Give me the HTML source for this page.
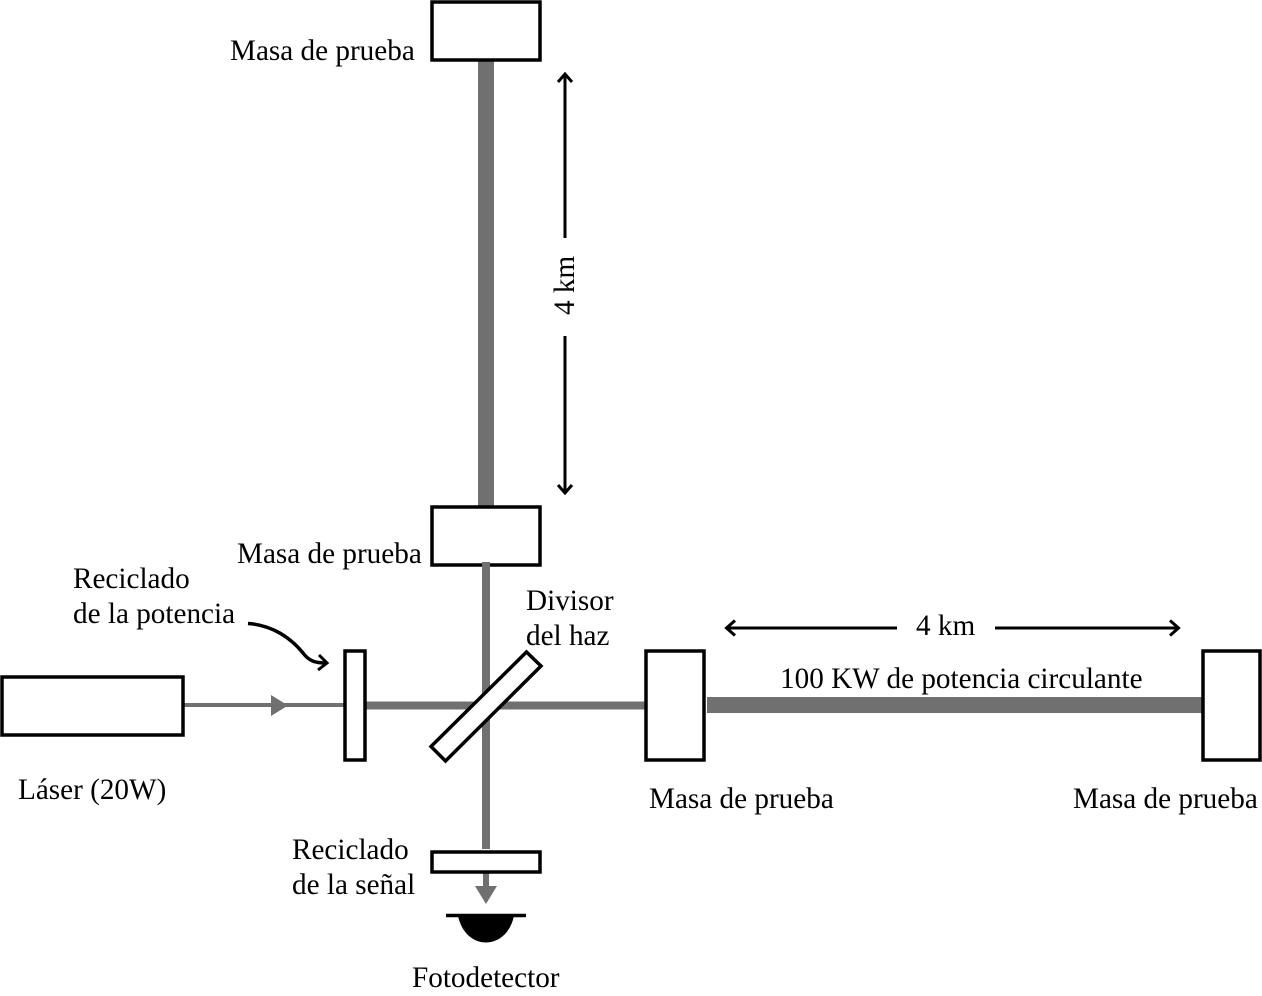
<!DOCTYPE html>
<html>
<head>
<meta charset="utf-8">
<style>
html,body{margin:0;padding:0;background:#fff;}
svg{display:block;}
text{font-family:"Liberation Serif",serif;font-size:29.2px;fill:#000;}
</style>
</head>
<body>
<svg width="1262" height="996" viewBox="0 0 1262 996" xmlns="http://www.w3.org/2000/svg">
<!-- beams behind boxes -->
<rect x="478" y="60" width="16" height="447" fill="#707070"/>
<rect x="184" y="703" width="161" height="4" fill="#707070"/>
<polygon points="271,695 288,705.5 271,716" fill="#707070"/>
<rect x="365" y="701.5" width="281" height="8" fill="#707070"/>
<rect x="707" y="697" width="495" height="16" fill="#707070"/>
<rect x="483" y="872" width="6" height="16" fill="#707070"/>
<polygon points="475,886 497,886 486,904" fill="#707070"/>
<!-- boxes -->
<g fill="#fff" stroke="#000" stroke-width="3.5">
<rect x="432" y="2" width="108" height="58"/>
<rect x="432" y="507" width="108" height="58"/>
<rect x="2" y="677" width="181" height="58"/>
<rect x="345" y="651" width="20" height="109"/>
<rect x="646" y="651" width="58" height="109"/>
<rect x="1203" y="651" width="57" height="109"/>
<rect x="432" y="852" width="108" height="20"/>
</g>
<!-- vertical beam over lower test mass border -->
<rect x="482" y="562" width="8" height="287" fill="#707070"/>
<!-- beam splitter on top -->
<polygon points="526.5,652 541,666 445.5,761 431,746.5" fill="#fff" stroke="#000" stroke-width="3.5"/>
<!-- photodetector -->
<line x1="446" y1="915.5" x2="526" y2="915.5" stroke="#000" stroke-width="3.5"/>
<path d="M458 916 H514 C510 934 498 942.5 486 942.5 C474 942.5 462 934 458 916 Z" fill="#000"/>
<!-- dimension arrows -->
<g fill="none" stroke="#000" stroke-width="3">
<line x1="565" y1="74" x2="565" y2="238"/>
<line x1="565" y1="336" x2="565" y2="493"/>
<polyline points="558,82 565,74 572,82"/>
<polyline points="558,485 565,493 572,485"/>
<line x1="727" y1="628" x2="897" y2="628"/>
<line x1="995" y1="628" x2="1178" y2="628"/>
<polyline points="735,620.5 726.5,628 735,635.5"/>
<polyline points="1170,620.5 1178.5,628 1170,635.5"/>
<path d="M248 623.5 C272 625 291 638 303 653 C309 661 315 663 326 663" stroke-width="3.5"/>
<polyline points="319,655 327,663 318,670"/>
</g>
<!-- labels -->
<text x="230" y="60">Masa de prueba</text>
<text x="237" y="563">Masa de prueba</text>
<text x="649" y="808">Masa de prueba</text>
<text x="1073" y="808">Masa de prueba</text>
<text x="73" y="588">Reciclado</text>
<text x="73" y="623">de la potencia</text>
<text x="526" y="610">Divisor</text>
<text x="526" y="645">del haz</text>
<text x="18" y="799">Láser (20W)</text>
<text x="292" y="859">Reciclado</text>
<text x="292" y="894">de la señal</text>
<text x="412" y="987">Fotodetector</text>
<text x="916" y="635">4 km</text>
<text x="780" y="688">100 KW de potencia circulante</text>
<text transform="translate(574,315) rotate(-90)">4 km</text>
</svg>
</body>
</html>
